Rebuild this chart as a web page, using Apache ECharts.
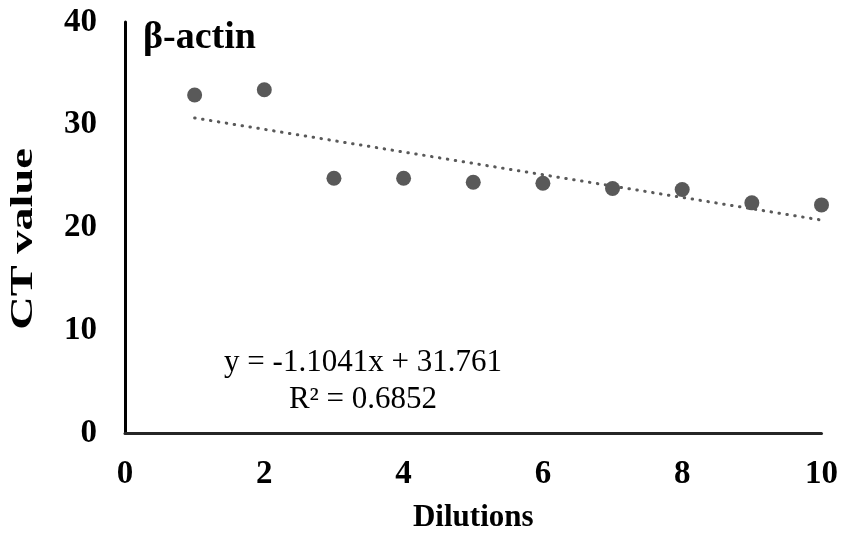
<!DOCTYPE html>
<html>
<head>
<meta charset="utf-8">
<script src="https://cdn.jsdelivr.net/npm/echarts@6/dist/echarts.min.js"></script>
<style>html,body{margin:0;padding:0;background:#fff;}#c{width:841px;height:538px;}</style>
</head>
<body>
<div id="c"></div>
<script>
const dilutions = [1, 2, 3, 4, 5, 6, 7, 8, 9, 10];
const ctValues = [32.9, 33.4, 24.8, 24.8, 24.4, 24.3, 23.8, 23.7, 22.4, 22.2];
const trendX = [1, 10];
const trendY = [30.66, 20.72];
const xTicks = [0, 2, 4, 6, 8, 10];
const yTicks = [0, 10, 20, 30, 40];
const titleText = 'β-actin';
const xName = 'Dilutions';
const yName = 'CT value';
const eqLine1 = 'y = -1.1041x + 31.761';
const eqLine2 = 'R² = 0.6852';

const serif = '"Liberation Serif", "Times New Roman", serif';
const chart = echarts.init(document.getElementById('c'), null, {renderer: 'canvas'});
chart.setOption({
  animation: false,
  backgroundColor: '#fff',
  grid: {left: 125, right: 19, top: 22, bottom: 103, containLabel: false},
  xAxis: {
    type: 'value', min: 0, max: 10, interval: 2,
    name: xName, nameLocation: 'middle', nameGap: 69,
    nameTextStyle: {fontFamily: serif, fontWeight: 'bold', fontSize: 31, color: '#000'},
    axisLine: {show: true, onZero: false, lineStyle: {color: '#262626', width: 3}},
    axisTick: {show: false},
    splitLine: {show: false},
    axisLabel: {margin: 25, fontFamily: serif, fontWeight: 'bold', fontSize: 33, color: '#000',
      formatter: v => xTicks.includes(v) ? String(v) : ''}
  },
  yAxis: {
    type: 'value', min: 0, max: 40, interval: 10,
    axisLine: {show: true, lineStyle: {color: '#000', width: 3}},
    axisTick: {show: false},
    splitLine: {show: false},
    axisLabel: {margin: 28, fontFamily: serif, fontWeight: 'bold', fontSize: 33, color: '#000',
      padding: [5, 0, 0, 0],
      formatter: v => yTicks.includes(v) ? String(v) : ''}
  },
  series: [
    {
      type: 'line',
      data: trendX.map((x, i) => [x, trendY[i]]),
      symbol: 'none',
      lineStyle: {color: '#595959', width: 3, type: [0.5, 7.5], cap: 'round'},
      z: 2
    },
    {
      type: 'scatter',
      data: dilutions.map((x, i) => [x, ctValues[i]]),
      symbol: 'circle', symbolSize: 15,
      itemStyle: {color: '#595959', opacity: 1},
      z: 3
    }
  ],
  graphic: [
    {type: 'text', left: 143, top: 19, style: {text: titleText, fontFamily: serif, fontWeight: 'bold', fontSize: 38, fill: '#000'}},
    {type: 'text', x: 24, y: 239, rotation: Math.PI / 2, scaleX: 1.45, scaleY: 1,
      style: {text: yName, fontFamily: serif, fontWeight: 'bold', fontSize: 32, fill: '#000', align: 'center', verticalAlign: 'middle'}},
    {type: 'text', x: 363, y: 363, style: {text: eqLine1, fontFamily: serif, fontSize: 31, fill: '#000', align: 'center', verticalAlign: 'middle'}},
    {type: 'text', x: 363, y: 400, style: {text: eqLine2, fontFamily: serif, fontSize: 31, fill: '#000', align: 'center', verticalAlign: 'middle'}}
  ]
});
</script>
</body>
</html>
